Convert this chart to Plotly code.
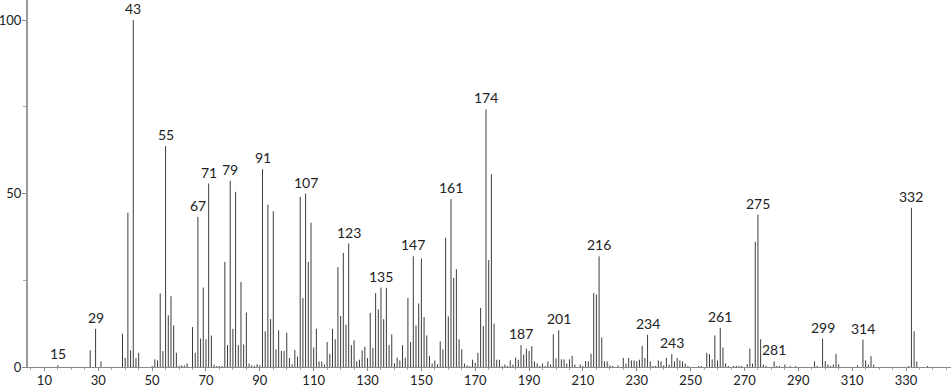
import plotly.graph_objects as go

mz = [15, 27, 29, 31, 39, 40, 41, 42, 43, 44, 45, 50, 51, 52, 53, 54, 55, 56, 57, 58, 59,
      60, 61, 62, 63, 65, 66, 67, 68, 69, 70, 71, 72, 73, 74, 75, 76, 77, 78, 79, 80,
      81, 82, 83, 84, 85, 86, 87, 88, 89, 90, 91, 92, 93, 94, 95, 96, 97, 98, 99, 100,
      101, 102, 103, 104, 105, 106, 107, 108, 109, 110, 111, 112, 113, 114, 115, 116, 117, 118, 119, 120,
      121, 122, 123, 124, 125, 126, 127, 128, 129, 130, 131, 132, 133, 134, 135, 136, 137, 138, 139, 140,
      141, 142, 143, 144, 145, 146, 147, 148, 149, 150, 151, 152, 153, 154, 155, 156, 157, 158, 159, 160,
      161, 162, 163, 164, 165, 166, 167, 168, 169, 170, 171, 172, 173, 174, 175, 176, 177, 178, 179, 180,
      181, 182, 183, 184, 185, 186, 187, 188, 189, 190, 191, 192, 193, 194, 195, 196, 197, 198, 199, 200,
      201, 202, 203, 204, 205, 206, 207, 209, 210, 211, 212, 213, 214, 215, 216, 217, 218, 219, 220,
      221, 223, 225, 226, 227, 228, 229, 230, 231, 232, 233, 234, 235, 236, 237, 238, 239, 240,
      241, 242, 243, 244, 245, 246, 247, 248, 249, 253, 254, 256, 257, 258, 259, 260,
      261, 262, 263, 264, 266, 267, 268, 269, 271, 272, 273, 274, 275, 276, 277, 278,
      281, 282, 283, 285, 287, 289, 296, 297, 299, 300, 301, 302, 303, 304, 305,
      312, 314, 315, 316, 317, 318, 331, 332, 333, 334, 338]

intensity = [0.5, 4.8, 11, 1.6, 9.6, 2.6, 44.5, 4.8, 100, 2.6, 4.1, 0.3, 2.2, 1.9, 21.2, 4.6, 63.7, 14.9, 20.4, 12, 4.1,
             0.4, 0.5, 0.4, 1.0, 11.5, 4.1, 43.3, 8.2, 22.9, 8.0, 52.9, 9.1, 0.7, 0.3, 0.3, 0.3, 30.3, 6.3, 53.7, 11,
             50.5, 6.3, 24.5, 6.5, 15.7, 1.0, 0.5, 0.3, 0.8, 0.5, 57, 10.3, 46.8, 13.8, 44.9, 5.1, 10.6, 4.6, 4.6, 9.9,
             2.6, 0.8, 4.9, 3.0, 49, 19.9, 50, 30.3, 41.6, 5.6, 11, 1.6, 1.6, 0.7, 7.2, 3.8, 11, 8, 28.8, 14.7,
             32.9, 12.2, 35.6, 6.3, 7.7, 1.6, 2.1, 4.8, 5.8, 2.6, 15.6, 5.5, 21.3, 16.6, 22.9, 13.8, 22.8, 6.3, 9.4, 1.1,
             2.7, 1.9, 6.3, 2.7, 19.9, 7.2, 31.9, 12, 18.3, 31.3, 14.4, 9.1, 3.2, 1.0, 1.9, 0.8, 7.4, 5.1, 37.3, 14.6,
             48.4, 25.7, 28.2, 8, 5.1, 1.0, 0.5, 0.3, 2.1, 1.2, 4.1, 17, 11.8, 74.3, 30.8, 55.6, 12.5, 2.1, 2.1, 0.3,
             0.7, 0.3, 1.9, 0.7, 2.7, 2.1, 6.3, 3.6, 5.3, 4.6, 6.0, 1.6, 1.0, 0.3, 1.0, 0.3, 1.6, 0.7, 9.4, 2.5,
             10.6, 2.2, 2.2, 1.0, 2.2, 3.2, 0.7, 0.7, 0.3, 1.7, 1.6, 3.8, 21.3, 20.9, 31.9, 8.5, 1.6, 1.6, 0.5,
             0.3, 0.5, 2.6, 1.0, 2.6, 1.9, 1.9, 1.7, 2.1, 6.1, 2.6, 9.3, 1.6, 0.3, 0.3, 1.9, 1.6, 0.5,
             2.7, 0.7, 3.7, 1.6, 2.6, 1.9, 1.6, 1.0, 0.3, 0.3, 0.3, 4.1, 3.7, 2.2, 9.1, 1.9,
             11.3, 5.6, 1.0, 0.3, 0.3, 0.3, 0.3, 0.3, 0.8, 5.3, 1.0, 36.1, 43.9, 8.0, 0.7, 0.3,
             1.6, 0.3, 0.3, 0.7, 0.3, 0.3, 1.6, 0.3, 8.2, 1.7, 0.7, 0.3, 0.7, 3.8, 0.8,
             0.5, 7.9, 1.9, 0.7, 3.1, 0.7, 0.3, 45.9, 10.3, 1.6, 0.3]

labeled_peaks = [15, 29, 43, 55, 67, 71, 79, 91, 107, 123, 135, 147, 161, 174, 187,
                 201, 216, 234, 243, 261, 275, 281, 299, 314, 332]

x_ticks = list(range(10, 331, 20))
y_ticks = [0, 50, 100]

# build stick segments
xs, ys = [], []
for m, v in zip(mz, intensity):
    xs += [m, m, None]
    ys += [0, v, None]

fig = go.Figure()
fig.add_trace(go.Scatter(x=xs, y=ys, mode="lines",
                         line=dict(color="#3c3c3c", width=1),
                         hoverinfo="skip", showlegend=False))

lookup = dict(zip(mz, intensity))
for p in labeled_peaks:
    fig.add_annotation(x=p, y=lookup[p], text=str(p), showarrow=False,
                       yanchor="bottom", xanchor="center", yshift=1,
                       font=dict(family="Lato, sans-serif", size=14, color="#222"))

fig.update_layout(
    width=951, height=389,
    margin=dict(l=28, r=0, t=0, b=22, autoexpand=False),
    paper_bgcolor="white", plot_bgcolor="white",
    font=dict(family="Lato, sans-serif", size=13, color="#222"),
    xaxis=dict(range=[3.9, 346.7], tickvals=x_ticks, ticktext=[str(t) for t in x_ticks],
               automargin=False,
               showgrid=False, zeroline=False, showline=True, linecolor="#8a8a8a", linewidth=1,
               ticks="outside", ticklen=3, tickcolor="#8a8a8a", ticklabelstandoff=-2,
               minor=dict(dtick=5, tick0=0, ticks="outside", ticklen=2, tickcolor="#aaa"),
               tickfont=dict(size=13)),
    yaxis=dict(range=[0, 105.8], tickvals=y_ticks, ticktext=[str(t) for t in y_ticks],
               automargin=False,
               showgrid=False, zeroline=False, showline=True, linecolor="#999", linewidth=2,
               ticks="outside", ticklen=4, tickcolor="#8a8a8a", ticklabelstandoff=-2,
               minor=dict(tickvals=[25, 75], ticks="outside", ticklen=3, tickcolor="#aaa"),
               tickfont=dict(size=13)),
)

fig.write_html("out.html")
